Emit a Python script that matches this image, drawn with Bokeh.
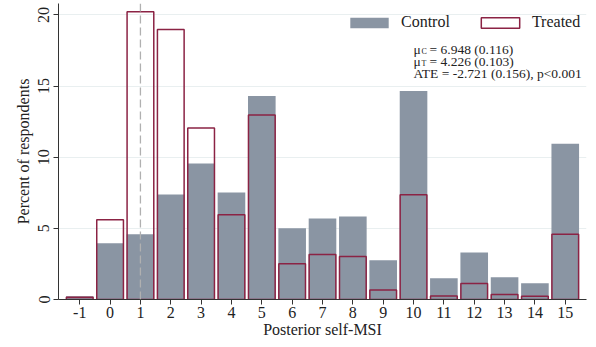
from bokeh.plotting import figure
from bokeh.models import Range1d, Span, Label, Legend, LegendItem, FixedTicker, ColumnDataSource
from bokeh.embed import file_html
from bokeh.resources import INLINE

# Data
categories = [-1, 0, 1, 2, 3, 4, 5, 6, 7, 8, 9, 10, 11, 12, 13, 14, 15]
control = [0.22, 3.95, 4.58, 7.38, 9.55, 7.52, 14.3, 5.0, 5.7, 5.84, 2.75, 14.65, 1.49, 3.31, 1.56, 1.14, 10.95]
treated = [0.15, 5.6, 20.22, 18.97, 12.05, 5.96, 12.96, 2.52, 3.17, 3.03, 0.67, 7.36, 0.25, 1.12, 0.35, 0.23, 4.58]
y_ticks = [0, 5, 10, 15, 20]
ann_lines = [("C", "= 6.948 (0.116)"), ("T", "= 4.226 (0.103)")]
ate_text = "ATE = -2.721 (0.156), p<0.001"

FONT = "Liberation Serif"
GRAY = "#8a95a3"
RED = "#8b2344"

src = ColumnDataSource(dict(x=categories, c=control, t=treated))

p = figure(width=588, height=340, output_backend="svg", toolbar_location=None,
           x_range=Range1d(-1.7, 15.7), y_range=Range1d(0, 20.8),
           min_border_top=3, min_border_right=2, min_border_left=58, min_border_bottom=2)
p.outline_line_color = None
p.background_fill_color = "white"

rc = p.vbar(x="x", top="c", width=0.91, source=src, fill_color=GRAY, line_color=None)
rt = p.vbar(x="x", top="t", width=0.88, source=src, fill_color=None, line_color=RED, line_width=1.5)

p.add_layout(Span(location=1, dimension="height", line_color="#b0b0b0", line_dash="8 4", line_width=1.3))

# axes
p.xaxis.ticker = FixedTicker(ticks=categories)
p.yaxis.ticker = FixedTicker(ticks=y_ticks)
p.xaxis.major_label_overrides = {c: str(c) for c in categories}
p.xaxis.minor_tick_line_color = None
p.yaxis.minor_tick_line_color = None
for ax in (p.xaxis, p.yaxis):
    ax.axis_line_color = "#333333"
    ax.major_tick_line_color = "#333333"
    ax.major_tick_out = 5
    ax.major_tick_in = 0
    ax.major_label_text_font = FONT
    ax.major_label_text_font_size = "16px"
    ax.major_label_text_color = "#222222"
    ax.axis_label_text_font = FONT
    ax.axis_label_text_font_size = "16px"
    ax.axis_label_text_font_style = "normal"
    ax.axis_label_text_color = "#222222"
p.yaxis.major_label_orientation = "vertical"
p.xaxis.axis_label = "Posterior self-MSI"
p.yaxis.axis_label = "Percent of respondents"
p.xaxis.axis_label_standoff = 0
p.yaxis.axis_label_standoff = 4
p.xaxis.major_label_standoff = 2
p.yaxis.major_label_standoff = 4

p.xgrid.grid_line_color = None
p.ygrid.grid_line_color = "#e9eff0"
p.ygrid.ticker = FixedTicker(ticks=y_ticks[1:])

legend = Legend(items=[LegendItem(label="Control", renderers=[rc]),
                       LegendItem(label="Treated", renderers=[rt])],
                orientation="horizontal", location=(287, 268),
                glyph_width=48, glyph_height=13, label_standoff=8, spacing=26,
                padding=0, margin=0, border_line_color=None, background_fill_alpha=0,
                label_text_font=FONT, label_text_font_size="16px", label_text_color="#222222")
p.add_layout(legend, "center")

# annotation
ann_x = 10.0
ys = [17.55, 16.72]
for (sub, rest), yv in zip(ann_lines, ys):
    p.add_layout(Label(x=ann_x, y=yv, text="\u03bc", text_font=FONT, text_font_size="13.5px",
                       text_color="#222222", text_baseline="alphabetic"))
    p.add_layout(Label(x=ann_x, y=yv, x_offset=8, y_offset=-1.5, text=sub, text_font=FONT,
                       text_font_size="8px", text_color="#222222", text_baseline="alphabetic"))
    p.add_layout(Label(x=ann_x, y=yv, x_offset=16, text=rest, text_font=FONT, text_font_size="13.5px",
                       text_color="#222222", text_baseline="alphabetic"))
p.add_layout(Label(x=ann_x, y=15.89, text=ate_text, text_font=FONT, text_font_size="13.5px",
                   text_color="#222222", text_baseline="alphabetic"))

open("out.html", "w").write(file_html(p, INLINE))
